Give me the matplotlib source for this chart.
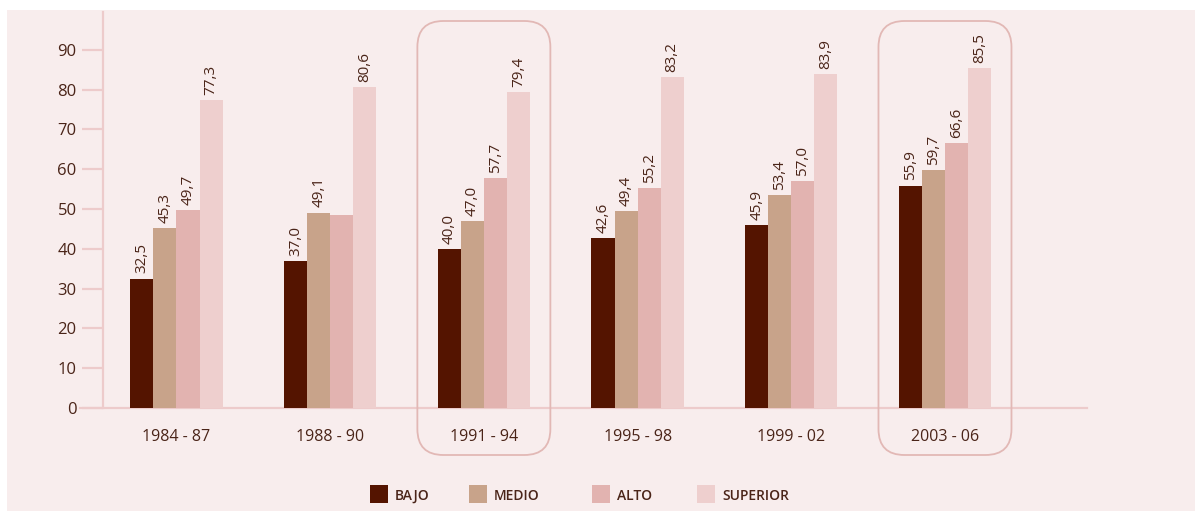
import matplotlib
matplotlib.use("Agg")
import matplotlib.pyplot as plt
from matplotlib.patches import Rectangle, FancyBboxPatch
from matplotlib.transforms import IdentityTransform
import numpy as np

plt.rcParams['font.family'] = ['Open Sans', 'DejaVu Sans']

periods = ["1984 - 87", "1988 - 90", "1991 - 94", "1995 - 98", "1999 - 02", "2003 - 06"]
series_names = ["BAJO", "MEDIO", "ALTO", "SUPERIOR"]
bajo = [32.5, 37.0, 40.0, 42.6, 45.9, 55.9]
medio = [45.3, 49.1, 47.0, 49.4, 53.4, 59.7]
alto = [49.7, 48.4, 57.7, 55.2, 57.0, 66.6]
superior = [77.3, 80.6, 79.4, 83.2, 83.9, 85.5]
# labels shown on the chart (None = no label printed)
alto_labels = ["49,7", None, "57,7", "55,2", "57,0", "66,6"]
yticks = [0, 10, 20, 30, 40, 50, 60, 70, 80, 90]
highlighted = [2, 5]

colors = ["#541400", "#C8A38A", "#E2B3B0", "#EECFCE"]
bg = "#F8EDED"
axis_col = "#EDCBCB"
text_col = "#4A2418"

W, H = 1199, 513
fig = plt.figure(figsize=(W / 100, H / 100), dpi=100, facecolor="white")
fig.patches.append(Rectangle((7 / W, 0.004), 1 - 11 / W, 1 - 10 / H - 0.004,
                             transform=fig.transFigure, facecolor=bg,
                             edgecolor="none", zorder=-10))

left_px, right_px, top_px, bot_px = 103, 1087, 12, 408
ax = fig.add_axes([left_px / W, 1 - bot_px / H, (right_px - left_px) / W, (bot_px - top_px) / H])
ax.set_facecolor("none")

x = np.arange(len(periods))
bw = 0.15
all_series = [bajo, medio, alto, superior]
for i, (vals, c, name) in enumerate(zip(all_series, colors, series_names)):
    xs = x + (i - 1.5) * bw
    ax.bar(xs, vals, width=bw, color=c, edgecolor="none", label=name, zorder=3)
    for j, (xx, v) in enumerate(zip(xs, vals)):
        if i == 2:
            lab = alto_labels[j]
        else:
            lab = f"{v:.1f}".replace(".", ",")
        if lab is None:
            continue
        ax.text(xx, v + 1.3, lab, rotation=90, ha="center", va="bottom",
                fontsize=11, color=text_col, zorder=4)

ax.set_xlim(-0.478, 5.924)
ax.set_ylim(0, 99.5)
ax.set_xticks(x)
ax.set_xticklabels(periods, fontsize=11.5, color=text_col)
ax.tick_params(axis="x", length=0, pad=15)
ax.set_yticks(yticks)
ax.set_yticklabels([str(t) for t in yticks], fontsize=12, color=text_col)
ax.tick_params(axis="y", length=15, width=1.6, color=axis_col, pad=4, direction="out")

for s in ["top", "right"]:
    ax.spines[s].set_visible(False)
ax.spines["left"].set_color(axis_col)
ax.spines["left"].set_linewidth(1.6)
ax.spines["bottom"].set_color(axis_col)
ax.spines["bottom"].set_linewidth(1.6)
ax.spines["bottom"].set_bounds(-0.63, 5.924)

# highlight boxes (pixel coordinates, origin bottom-left)
for g in highlighted:
    cx, _ = ax.transData.transform((x[g], 0))
    half_w = 66.5
    y_top = H - 21
    y_bot = H - 455
    box = FancyBboxPatch((cx - half_w, y_bot), 2 * half_w, y_top - y_bot,
                         boxstyle="round,pad=0,rounding_size=26",
                         transform=IdentityTransform(), facecolor="none",
                         edgecolor="#E2B8B5", linewidth=1.3, zorder=5)
    fig.patches.append(box)

# legend drawn manually (pixel positions from top-left)
leg_square_x = [370, 469, 592, 697]
sq = 18
leg_y = 494
for sx, c, name in zip(leg_square_x, colors, series_names):
    fig.patches.append(Rectangle((sx, H - leg_y - sq / 2), sq, sq,
                                 transform=IdentityTransform(), facecolor=c,
                                 edgecolor="none"))
    fig.text((sx + sq + 7) / W, 1 - leg_y / H, name, ha="left", va="center_baseline",
             fontsize=10, fontweight="semibold", color=text_col)

fig.savefig("out.png", dpi=100, facecolor="white")
